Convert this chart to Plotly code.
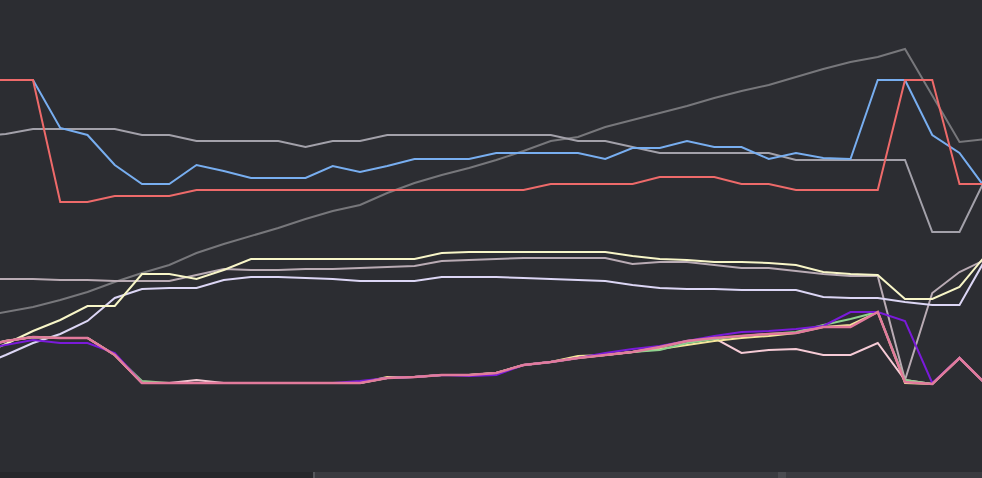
import plotly.graph_objects as go

# ---- data (arbitrary units, higher = further up) ----
categories = [f"P{i:02d}" for i in range(38)]

red = [398, 398, 398, 276, 276, 282, 282, 282, 288, 288, 288, 288, 288, 288, 288, 288, 288, 288, 288,
       288, 288, 294, 294, 294, 294, 301, 301, 301, 294, 294, 288, 288, 288, 288, 398, 398, 294, 294]
blue = [398, 398, 398, 350, 343, 313, 294, 294, 313, 307, 300, 300, 300, 312, 306, 312, 319, 319, 319,
        325, 325, 325, 325, 319, 330, 330, 337, 331, 331, 319, 325, 320, 319, 398, 398, 343, 325, 288]
gray_mid = [342, 344, 349, 349, 349, 349, 343, 343, 337, 337, 337, 337, 331, 337, 337, 343, 343, 343, 343,
            343, 343, 343, 337, 337, 331, 325, 325, 325, 325, 325, 318, 318, 318, 318, 318, 246, 246, 302]
gray_dark = [161, 166, 171, 178, 186, 196, 205, 213, 225, 234, 242, 250, 259, 267, 273, 285, 295, 303, 310,
             318, 327, 337, 341, 351, 358, 365, 372, 380, 387, 393, 401, 409, 416, 421, 429, 382, 336, 339]
cream = [122, 134, 147, 158, 172, 172, 204, 204, 199, 208, 219, 219, 219, 219, 219, 219, 219, 225, 226,
         226, 226, 226, 226, 226, 222, 219, 218, 216, 216, 215, 213, 206, 204, 203, 179, 179, 191, 224]
mauve = [199, 199, 199, 198, 198, 197, 197, 197, 203, 209, 208, 208, 209, 209, 210, 211, 212, 217, 218,
         219, 220, 220, 220, 220, 214, 216, 216, 213, 210, 210, 207, 204, 202, 202, 98, 185, 206, 219]
lavender = [112, 123, 135, 144, 157, 180, 189, 190, 190, 198, 201, 201, 200, 199, 197, 197, 197, 201, 201,
            201, 200, 199, 198, 197, 193, 190, 189, 189, 188, 188, 188, 181, 180, 180, 176, 173, 173, 221]
light_pink = [132, 137, 141, 140, 140, 123, 95, 95, 98, 95, 95, 95, 95, 95, 95, 100, 101, 103, 103,
              105, 113, 116, 120, 123, 126, 131, 137, 140, 125, 128, 129, 123, 123, 135, 98, 94, 120, 93]
yellow = [130, 137, 141, 140, 140, 123, 95, 95, 95, 95, 95, 95, 95, 95, 95, 101, 101, 103, 103,
          105, 113, 116, 122, 123, 126, 129, 133, 137, 140, 142, 145, 151, 153, 166, 95, 94, 120, 93]
green = [130, 137, 141, 140, 140, 123, 97, 95, 95, 95, 95, 95, 95, 95, 95, 100, 101, 103, 103,
         105, 113, 116, 120, 123, 126, 128, 135, 139, 142, 144, 146, 153, 159, 166, 98, 94, 120, 93]
purple = [128, 133, 138, 135, 135, 125, 95, 95, 95, 95, 95, 95, 95, 95, 97, 100, 101, 103, 102,
          103, 113, 116, 120, 125, 129, 132, 137, 142, 146, 147, 149, 152, 166, 166, 157, 95, 120, 93]
pink = [130, 137, 141, 140, 140, 123, 95, 95, 95, 95, 95, 95, 95, 95, 95, 100, 101, 103, 103,
        105, 113, 116, 120, 123, 126, 131, 137, 140, 142, 144, 145, 151, 151, 166, 96, 94, 120, 93]

series = [
    ("gray_dark", gray_dark, "#77777b", 2),
    ("gray_mid", gray_mid, "#a3a1aa", 2),
    ("blue", blue, "#78aef0", 2),
    ("red", red, "#ee6a6a", 2),
    ("mauve", mauve, "#b9abb4", 2),
    ("lavender", lavender, "#dcd6f5", 2),
    ("cream", cream, "#f8f6c8", 2),
    ("light_pink", light_pink, "#f6cbd6", 2),
    ("yellow", yellow, "#f4e69a", 2),
    ("green", green, "#8ed28e", 2),
    ("purple", purple, "#7a1ad9", 2),
    ("pink", pink, "#e27a9c", 2.5),
]

BG = "#2c2d32"
W, H = 982, 478

fig = go.Figure()
for name, vals, color, width in series:
    fig.add_trace(go.Scatter(
        x=list(range(len(categories))), y=vals, name=name, mode="lines",
        line=dict(color=color, width=width), hoverinfo="skip", showlegend=False,
    ))

# view window (the chart is zoomed in / panned)
step = 27.25
first_px = -21.5
x_lo = (0 - first_px) / step
x_hi = (W - first_px) / step

fig.update_layout(
    width=W, height=H,
    margin=dict(l=0, r=0, t=0, b=0),
    paper_bgcolor=BG, plot_bgcolor=BG,
    xaxis=dict(range=[x_lo, x_hi], visible=False, showgrid=False, zeroline=False),
    yaxis=dict(range=[0, H], visible=False, showgrid=False, zeroline=False),
    shapes=[
        dict(type="rect", xref="paper", yref="paper", x0=0, x1=313 / W, y0=0, y1=6 / H,
             fillcolor="#26272b", line=dict(width=0), layer="above"),
        dict(type="rect", xref="paper", yref="paper", x0=313 / W, x1=1, y0=0, y1=6 / H,
             fillcolor="#3a3b40", line=dict(width=0), layer="above"),
        dict(type="rect", xref="paper", yref="paper", x0=313 / W, x1=315 / W, y0=0, y1=6 / H,
             fillcolor="#55565b", line=dict(width=0), layer="above"),
        dict(type="rect", xref="paper", yref="paper", x0=778 / W, x1=786 / W, y0=0, y1=6 / H,
             fillcolor="#4a4b50", line=dict(width=0), layer="above"),
    ],
)

fig.write_html("out.html")
